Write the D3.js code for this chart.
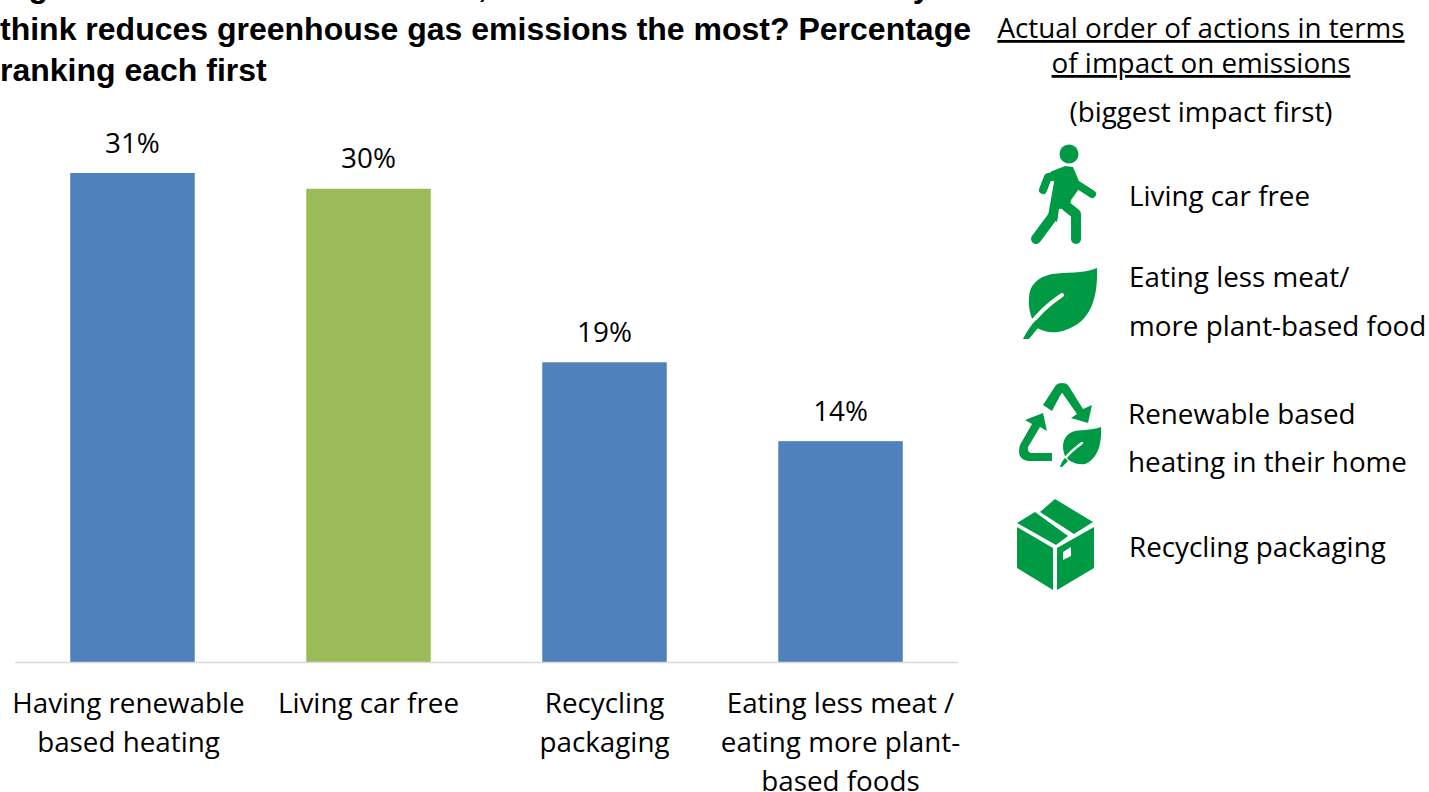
<!DOCTYPE html>
<html><head><meta charset="utf-8">
<style>
html,body{margin:0;padding:0;background:#fff;overflow:hidden}
svg{display:block}
text{font-family:"Open Sans",sans-serif;fill:#000}
.t{font-family:"Liberation Sans",Arial,sans-serif;font-weight:700;font-size:32px}
.c{font-size:27.8px}
</style></head><body>
<svg id="c" width="1429" height="792"></svg>
<script src="https://cdnjs.cloudflare.com/ajax/libs/d3/7.8.5/d3.min.js"></script>
<script>
const categories=["Having renewable based heating","Living car free","Recycling packaging","Eating less meat / eating more plant-based foods"];
const categoryLines=[["Having renewable","based heating"],["Living car free"],["Recycling","packaging"],["Eating less meat /","eating more plant-","based foods"]];
const values=[31,30,19,14];
const barColors=["#4f81bd","#9bbb59","#4f81bd","#4f81bd"];
const titleLines=["Figure 3: Of these four actions, which of these actions do you","think reduces greenhouse gas emissions the most? Percentage","ranking each first"];
const sideHead=["Actual order of actions in terms","of impact on emissions"];
const sideSub="(biggest impact first)";
const sideItems=[
 {lines:["Living car free"]},
 {lines:["Eating less meat/","more plant-based food"]},
 {lines:["Renewable based","heating in their home"]},
 {lines:["Recycling packaging"]}];

const svg=d3.select("#c");
const x=d3.scaleBand().domain(categories).range([15,958]).paddingInner(0.4725).paddingOuter(0.234);
const y=d3.scaleLinear().domain([0,31]).range([662,173]);
const GREEN="#009a44";

svg.selectAll("text.t").data(titleLines).join("text").attr("class","t").attr("x",0)
 .attr("y",(d,i)=>(i==0?-3:40+(i-1)*41)).attr("word-spacing",(d,i)=>i==0?2.8:0).text(d=>d);

svg.selectAll("rect.b").data(categories).join("rect").attr("class","b")
 .attr("x",d=>x(d)).attr("width",x.bandwidth())
 .attr("y",(d,i)=>y(values[i])).attr("height",(d,i)=>y(0)-y(values[i]))
 .attr("fill",(d,i)=>barColors[i]);
svg.append("line").attr("x1",15).attr("x2",958).attr("y1",662.5).attr("y2",662.5).attr("stroke","#d9d9d9").attr("stroke-width",1.5);

svg.selectAll("text.v").data(categories).join("text").attr("class","c v").attr("text-anchor","middle")
 .attr("x",d=>x(d)+x.bandwidth()/2).attr("y",(d,i)=>y(values[i])-20.5).text((d,i)=>values[i]+"%");

categories.forEach((c,i)=>{
 categoryLines[i].forEach((l,j)=>{
  svg.append("text").attr("class","c").attr("text-anchor","middle")
   .attr("x",x(c)+x.bandwidth()/2+(i==0?-4:0)).attr("y",713+j*39).text(l);
 });
});

sideHead.forEach((l,i)=>{
 svg.append("text").attr("class","c").attr("text-anchor","middle").attr("text-decoration","underline")
  .attr("x",1201).attr("y",38+i*35).text(l);
});
svg.append("text").attr("class","c").attr("text-anchor","middle").attr("x",1201).attr("y",122).text(sideSub);

const itemPos=[{x:1129,y:[206]},{x:1129,y:[287,336]},{x:1128,y:[424,472]},{x:1129,y:[557]}];
sideItems.forEach((it,i)=>it.lines.forEach((l,j)=>{
 svg.append("text").attr("class","c").attr("x",itemPos[i].x).attr("y",itemPos[i].y[j]).text(l);
}));

// walker icon
svg.append("circle").attr("cx",1069).attr("cy",154).attr("r",9.5).attr("fill",GREEN);
svg.append("path").attr("fill",GREEN).attr("d","M1050 172 L1065 166 L1073 167 L1081 186 L1071 200 L1069 208 L1059 209 L1057 222 L1048 216 L1054 182 Z");
const walk=svg.append("g").attr("fill","none").attr("stroke",GREEN).attr("stroke-linecap","round").attr("stroke-linejoin","round");
walk.append("path").attr("d","M1052 177 L1048 177 L1043 190").attr("stroke-width",8);
walk.append("path").attr("d","M1078 185 L1092 194").attr("stroke-width",8);
walk.append("path").attr("d","M1066 206 L1076 214 L1076 239").attr("stroke-width",10);
walk.append("path").attr("d","M1053 216 L1036 239").attr("stroke-width",10);

// leaf icon
svg.append("path").attr("fill",GREEN).attr("d","M1097 268 C1082 274 1066 272 1052 274 C1037 277 1029 286 1029 298 C1028 308 1031 318 1036 327 C1041 331 1050 333 1058 332 C1090 326 1098 300 1097 268 Z");
svg.append("path").attr("fill","none").attr("stroke","#fff").attr("stroke-width",4).attr("stroke-linecap","round").attr("d","M1062 295 C1050 303 1038 313 1028 328");
svg.append("path").attr("fill",GREEN).attr("d","M1023 339 C1027 331 1032 324 1036 320 L1040 326 C1036 330 1033 334 1029 339 Z");

// recycle icon
const rc=svg.append("g").attr("fill",GREEN);
rc.append("path").attr("d","M1043 405 L1056 385 Q1058 383 1062 383 Q1066 383 1068 385 L1083 409 L1092 405 L1088 423 L1071 418 L1077 414 L1063 394 Q1062 392 1061 394 L1052 411 Z");
rc.append("path").attr("d","M1025 420 L1043 413 L1047 431 L1040 427 L1028 447 Q1027 452 1031 453 L1052 453 L1052 461 L1028 461 Q1016 459 1020 445 L1032 424 Z");
rc.append("path").attr("d","M1101 427 C1090 431 1080 429 1072 432 C1063 436 1061 446 1065 456 C1069 462 1077 465 1085 464 C1098 459 1102 443 1101 427 Z");
svg.append("path").attr("fill","none").attr("stroke","#fff").attr("stroke-width",2.5).attr("stroke-linecap","round").attr("d","M1082 443 C1075 448 1069 453 1063 461");
svg.append("path").attr("fill",GREEN).attr("d","M1060 467 C1061 463 1063 460 1065 458 L1068 461 L1062 467 Z");

// box icon
const bx=svg.append("g").attr("fill",GREEN);
bx.append("path").attr("d","M1055 499 L1093 522 L1074 534 L1040 512 Z");
bx.append("path").attr("d","M1035 512 L1068 536 L1056 545 L1017 523 Z");
bx.append("path").attr("d","M1017 527 L1053 548 L1053 590 L1017 568 Z");
bx.append("path").attr("fill-rule","evenodd").attr("d","M1094 527 L1094 568 L1057 590 L1057 548 Z M1063 552 L1063 560 L1071 556 L1071 547 Z");
</script></body></html>
